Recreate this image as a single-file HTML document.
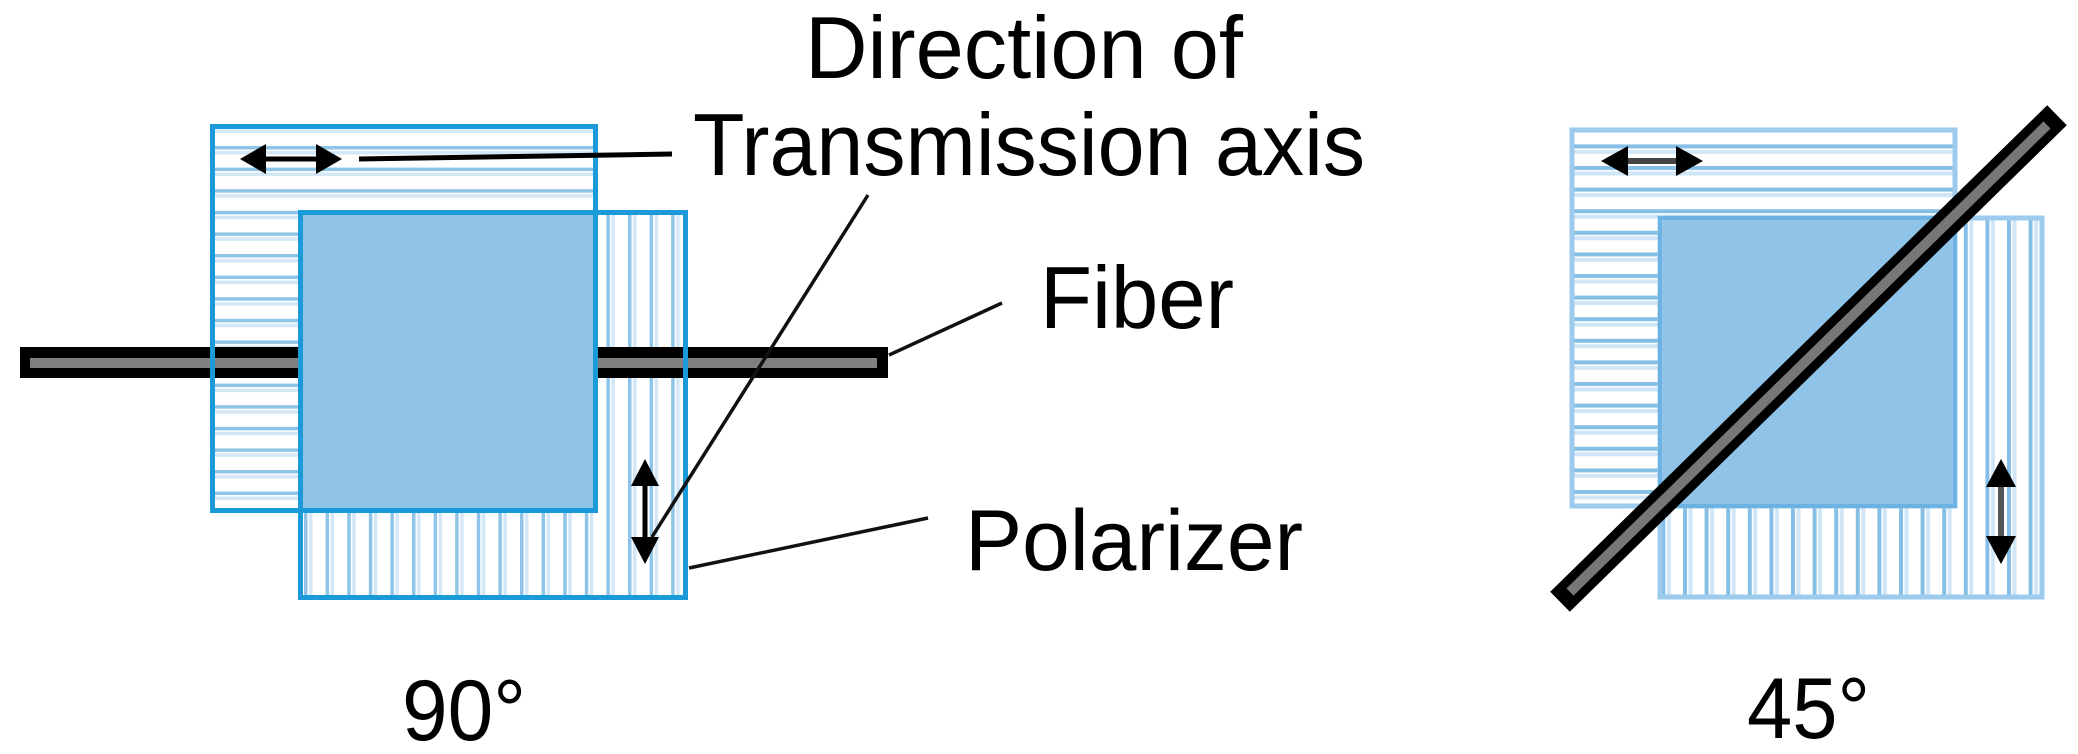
<!DOCTYPE html>
<html><head><meta charset="utf-8"><style>
html,body{margin:0;padding:0;background:#fff;}
svg{display:block;}
text{font-family:"Liberation Sans",sans-serif;fill:#000;}
</style></head><body>
<svg width="2078" height="754" viewBox="0 0 2078 754" xmlns="http://www.w3.org/2000/svg">
<defs>
<pattern id="hs" x="0" y="146" width="40" height="21.6" patternUnits="userSpaceOnUse">
<rect x="0" y="0" width="40" height="3.5" fill="#8ec4e8"/>
<rect x="0" y="5" width="40" height="3.5" fill="#d3e7f7"/>
</pattern>
<pattern id="vs" x="304" y="0" width="21.6" height="40" patternUnits="userSpaceOnUse">
<rect x="0" y="0" width="3.5" height="40" fill="#8ec4e8"/>
<rect x="5" y="0" width="3.5" height="40" fill="#d3e7f7"/>
</pattern>
<pattern id="hs2" x="0" y="166" width="40" height="21.6" patternUnits="userSpaceOnUse">
<rect x="0" y="0" width="40" height="4" fill="#86bfe6"/>
<rect x="0" y="5.5" width="40" height="4" fill="#d0e6f6"/>
</pattern>
<pattern id="vs2" x="1683" y="0" width="21.6" height="40" patternUnits="userSpaceOnUse">
<rect x="0" y="0" width="4" height="40" fill="#86bfe6"/>
<rect x="5.5" y="0" width="4" height="40" fill="#d0e6f6"/>
</pattern>
</defs>

<!-- LEFT PANEL -->
<rect x="212.5" y="126.5" width="383" height="384" fill="url(#hs)"/>
<rect x="300.5" y="212.5" width="385" height="385" fill="url(#vs)"/>
<rect x="20" y="347" width="868" height="31" fill="#000"/>
<rect x="30" y="358" width="847" height="10" fill="#808080"/>
<rect x="300" y="212" width="297" height="298" fill="#8fc3e7"/>
<rect x="212.5" y="126.5" width="383" height="384" fill="none" stroke="#1a9ad8" stroke-width="5"/>
<rect x="300.5" y="212.5" width="385" height="385" fill="none" stroke="#1a9ad8" stroke-width="5"/>
<line x1="258" y1="159" x2="325" y2="159" stroke="#000" stroke-width="5"/>
<polygon points="240,159 266,144 266,174" fill="#000"/>
<polygon points="342,159 316,144 316,174" fill="#000"/>
<line x1="359" y1="159" x2="672" y2="154" stroke="#000" stroke-width="5"/>
<line x1="645" y1="478" x2="645" y2="545" stroke="#000" stroke-width="5"/>
<polygon points="645,459 631,486 659,486" fill="#000"/>
<polygon points="645,564 631,537 659,537" fill="#000"/>
<line x1="868" y1="195" x2="652" y2="537" stroke="#111" stroke-width="3.5"/>
<line x1="889" y1="355" x2="1002" y2="303" stroke="#111" stroke-width="3.5"/>
<line x1="689" y1="568" x2="928" y2="518" stroke="#111" stroke-width="3.5"/>
<text x="805" y="78" font-size="88" textLength="438" lengthAdjust="spacingAndGlyphs">Direction of</text>
<text x="693" y="175" font-size="88" textLength="672" lengthAdjust="spacingAndGlyphs">Transmission axis</text>
<text x="1040" y="328" font-size="88" textLength="194" lengthAdjust="spacingAndGlyphs">Fiber</text>
<text x="965" y="570" font-size="86" textLength="338" lengthAdjust="spacingAndGlyphs">Polarizer</text>
<text x="402" y="740" font-size="86" textLength="124" lengthAdjust="spacingAndGlyphs">90°</text>

<!-- RIGHT PANEL -->
<rect x="1570" y="128" width="387" height="380" fill="url(#hs2)"/>
<rect x="1658" y="216" width="386" height="383" fill="url(#vs2)"/>
<rect x="1658" y="216" width="299" height="292" fill="#8fc3e7"/>
<rect x="1572" y="130" width="383" height="376" fill="none" stroke="#9ccbee" stroke-width="5"/>
<rect x="1660" y="218" width="382" height="379" fill="none" stroke="#9ccbee" stroke-width="5"/>
<rect x="1660" y="218" width="295" height="288" fill="none" stroke="#6cb3e3" stroke-width="4"/>
<line x1="1622" y1="161" x2="1684" y2="161" stroke="#444" stroke-width="6"/>
<polygon points="1601,161 1628,146 1628,176" fill="#000"/>
<polygon points="1703,161 1676,146 1676,176" fill="#000"/>
<line x1="2001" y1="480" x2="2001" y2="545" stroke="#555" stroke-width="6"/>
<polygon points="2001,459 1986,487 2016,487" fill="#000"/>
<polygon points="2001,564 1986,536 2016,536" fill="#000"/>
<line x1="1570" y1="592" x2="2047" y2="125" stroke="#000" stroke-width="28" stroke-linecap="square"/>
<line x1="1570" y1="592" x2="2047" y2="125" stroke="#777" stroke-width="10"/>
<text x="1747" y="738" font-size="86" textLength="123" lengthAdjust="spacingAndGlyphs">45°</text>
</svg>
</body></html>
